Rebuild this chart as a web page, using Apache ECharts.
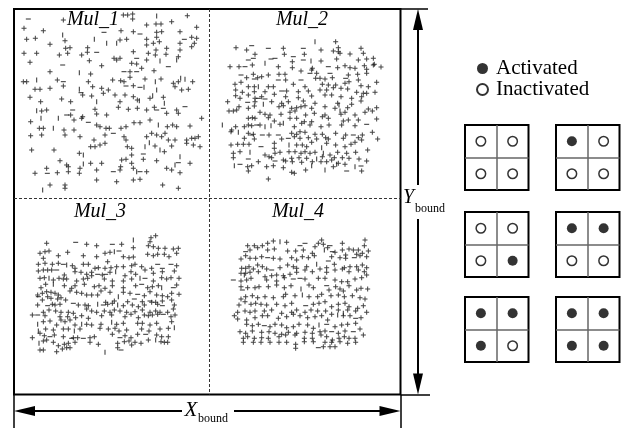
<!DOCTYPE html>
<html>
<head>
<meta charset="utf-8">
<title>Mul regions and activation states</title>
<script src="https://cdn.jsdelivr.net/npm/echarts@6/dist/echarts.min.js"></script>
<style>
  html, body { margin: 0; padding: 0; background: #fff; }
  #chart { width: 622px; height: 430px; }
</style>
</head>
<body>
<div id="chart"></div>
<script>
// marker positions; every panel has its own grid whose units are 1/3 px
var mul1Plus = [[190,60],[370,45],[383,45],[398,42],[398,57],[562,47],
  [72,85],[130,92],[363,92],[400,95],[440,75],[468,72],[483,72],[470,97],[485,95],[515,65],[590,82],
  [80,118],[106,115],[195,122],[360,120],[380,118],[440,118],[470,112],[540,95],[575,112],[590,115],[540,130],[583,130],
  [150,133],[197,145],[210,143],[263,143],[440,135],[460,130],[478,125],[468,150],[500,145],[540,150],[575,140],
  [72,160],[110,160],[178,165],[203,160],[245,165],[262,157],[342,175],[360,175],[400,155],[445,160],[466,165],[498,163],[535,170],
  [90,187],[268,182],[305,197],[350,180],[395,190],[410,192],[440,180],
  [150,215],[272,222],[390,215],[425,205],[462,212],
  [70,245],[80,245],[172,240],[265,245],[338,240],[362,242],[372,245],[390,232],[435,237],[483,237],[520,250],[535,245],[578,245],
  [105,268],[120,268],[150,265],[190,258],[278,260],[305,265],[325,270],[400,257],[525,260],[545,270],[565,268],
  [90,292],[185,297],[212,305],[248,285],[275,288],[310,280],[345,285],[375,285],[400,290],[412,300],[450,295],[490,292],
  [122,305],[360,305],
  [125,333],[140,330],[212,345],[248,350],[285,328],[290,342],[320,345],[355,322],[385,328],[412,325],[440,330],[463,322],[500,340],[530,330],[535,340],
  [92,365],[222,360],[245,355],[290,375],[300,380],[318,385],[328,385],[363,385],[378,380],[402,368],[420,368],[450,360],[502,380],[518,375],[530,380],[570,378],[605,355],[585,415],
  [118,385],[130,385],[192,390],[222,390],
  [92,407],[125,405],[195,405],[240,410],[282,420],[315,405],[372,410],[378,420],[440,410],[455,400],[470,405],[485,410],[495,400],[505,420],[525,420],[560,420],[575,415],[595,410],
  [272,440],[285,440],[300,435],[315,430],[382,440],[395,445],[465,438],[493,455],[515,438],[560,430],[580,435],[600,440],
  [95,450],[162,450],[238,460],[395,465],[430,478],
  [180,482],[200,495],[272,490],[305,490],[365,480],[378,478],[395,490],[470,482],[570,490],
  [105,520],[140,505],[172,518],[205,515],[205,500],[240,505],[238,520],[290,510],[360,510],[362,500],[400,505],[440,515],[500,505],[515,510],[540,518],
  [150,555],[195,555],[195,565],[290,540],[350,545],[400,540],[420,538],[488,555],[535,565]];
var mul1Minus = [[85,57],[312,97],[420,102],[553,118],[290,157],[410,175],[188,195],[505,200],[372,215],[410,215],[190,245],[243,278],[378,258],
  [420,262],[200,345],[218,330],[470,330],[490,325],[555,320],[265,367],[340,400],[430,462],[535,488],[142,520],[340,515],[420,515]];
var mul1Bar = [[470,48],[188,105],[283,118],[320,130],[350,130],[480,183],[530,180],[238,218],[110,240],[466,245],[542,235],[555,238],[238,268],
  [432,262],[470,270],[418,302],[458,287],[493,310],[290,305],[110,332],[123,355],[175,355],[475,375],[160,385],[435,440],[448,428],[480,450],
  [250,465],[540,470],[250,492],[525,495],[410,515],[128,570]];

var mul2Plus = [[362,20],[63,38],[95,45],[205,40],[318,45],[355,48],[370,38],[370,50],[438,40],
  [120,58],[208,58],[268,58],[375,55],[405,57],[445,55],
  [232,80],[318,78],[365,72],[430,75],[455,72],[475,70],[478,88],
  [45,95],[72,95],[112,90],[190,95],[232,98],[292,100],[290,105],[368,98],[390,92],[405,98],[420,100],[448,92],[475,90],[498,96],[455,103],
  [258,108],[455,115],[115,118],[140,125],[160,120],[192,118],[210,118],[305,115],[352,128],[400,120],[428,118],
  [95,128],[128,128],[212,135],[302,130],[315,130],[330,132],[430,135],[485,142],
  [60,148],[78,142],[100,155],[118,155],[160,155],[175,155],[235,148],[270,155],[322,148],[340,150],[362,150],[390,145],[402,140],[438,152],[460,155],
  [62,165],[82,172],[118,170],[150,170],[215,168],[250,170],[280,168],[315,165],[335,165],[355,158],[378,160],[398,162],[425,172],[445,175],[480,172],
  [62,182],[75,190],[100,180],[120,190],[140,185],[178,178],[212,185],[250,188],[290,183],[330,180],[350,180],[378,185],[410,190],[440,185],[455,175],
  [38,200],[120,200],[170,200],[200,205],[220,200],[265,198],[300,205],[330,215],[368,205],[410,208],[438,198],
  [72,215],[100,220],[118,213],[192,215],[205,212],[230,220],[245,218],[258,215],[270,212],[290,220],[360,220],[398,218],[460,222],[485,218],
  [42,228],[55,228],[65,225],[135,232],[150,238],[165,240],[198,238],[225,232],[240,228],[272,240],[298,235],[322,245],[330,240],[378,238],[390,232],[420,240],[450,232],[472,228],
  [100,250],[112,248],[120,250],[160,248],[178,258],[225,250],[245,250],[268,260],[290,260],[340,250],[385,258],[400,255],[430,255],[485,252],
  [50,285],[62,275],[88,275],[100,270],[110,272],[135,270],[195,268],[238,275],[260,265],[285,270],[318,275],[342,270],[380,270],[420,272],
  [48,290],[100,295],[115,298],[162,300],[230,295],[245,298],[255,290],[270,292],[300,298],[322,298],[332,308],[362,295],[392,300],[442,300],[472,292],
  [88,310],[118,312],[200,312],[238,305],[255,310],[280,308],[305,312],[340,312],[385,310],[430,308],[488,312],
  [48,330],[68,328],[85,328],[102,328],[178,325],[245,330],[262,330],[275,335],[290,322],[335,325],[362,330],[390,335],[408,328],[420,322],[440,315],
  [55,355],[75,350],[150,360],[178,340],[180,355],[195,352],[222,350],[240,350],[258,355],[270,350],[285,355],[300,352],[345,360],[368,352],[395,355],[422,352],[458,345],
  [55,368],[162,365],[170,368],[205,375],[230,370],[252,368],[275,370],[322,365],[358,368],[382,368],[402,370],[432,372],
  [130,380],[212,378],[232,380],[260,382],[292,380],[318,380],[335,380],[350,375],[370,385],[390,388],[455,378],
  [98,395],[110,392],[155,395],[175,392],[205,398],[272,405],[355,395],[440,408],
  [100,408],[230,412],[238,415],[160,432]];
var mul2Minus = [[110,32],[160,40],[265,40],[235,65],[100,75],[115,70],[168,72],[180,70],[265,75],[90,95],[340,95],[78,120],[285,115],[345,115],
  [118,132],[190,135],[258,135],[392,130],[200,168],[98,202],[130,190],[150,192],[125,270],[455,268],[110,300],[142,300],[190,300],[415,300],
  [220,310],[138,335],[100,372],[180,378],[75,388],[395,408],[438,393]];
var mul2Bar = [[300,20],[150,85],[288,78],[130,155],[145,208],[372,210],[375,228],[22,270],[150,275],[168,272],[205,265],[70,292],[222,330],
  [320,338],[105,352],[325,355],[305,372],[58,392],[290,392],[330,405],[365,388],[420,395]];

var mul3Plus = [[65,55],[185,58],[215,62],[290,58],[325,68],[378,38],[392,32],[375,50],[370,62],[385,65],[400,70],[420,70],[445,72],[460,70],
  [45,85],[60,80],[72,78],[100,92],[128,82],[175,92],[215,95],[240,85],[255,82],[295,95],[312,98],[325,96],[368,88],[385,92],[398,88],[418,88],[432,95],[455,85],
  [40,118],[55,100],[60,115],[82,118],[100,115],[142,122],[150,130],[175,118],[190,118],[210,130],[220,128],[240,130],[248,110],[258,128],[275,125],[295,125],[320,122],[330,118],[350,125],[380,130],[455,122],
  [40,138],[55,135],[68,135],[80,135],[118,150],[150,140],[168,142],[185,148],[200,152],[200,142],[232,150],[255,142],[300,152],[318,140],[332,148],[360,135],[385,145],[412,140],[448,138],
  [45,160],[58,158],[85,165],[102,160],[115,162],[125,162],[155,168],[175,162],[188,160],[238,162],[262,168],[295,168],[320,162],[385,168],[410,158],[425,162],[438,158],[462,160],
  [48,188],[62,178],[118,182],[140,190],[150,182],[178,178],[208,185],[222,182],[240,190],[262,182],[295,188],[332,182],[368,188],[382,185],[400,182],[455,180],
  [38,210],[52,205],[65,200],[78,202],[90,205],[100,210],[135,198],[155,202],[170,205],[185,210],[200,210],[218,210],[228,198],[255,202],[295,202],[315,205],[358,212],[375,200],[395,210],[412,212],[428,215],[440,205],[462,208],
  [52,225],[68,215],[78,220],[98,222],[108,218],[122,225],[242,232],[268,228],[308,230],[352,230],[392,232],[412,228],[440,225],
  [38,240],[82,238],[90,240],[105,238],[160,240],[180,240],[190,242],[248,238],[262,235],[295,242],[322,240],[340,245],[358,240],[380,232],[398,238],[448,240],
  [55,262],[72,255],[92,258],[108,262],[130,262],[145,265],[185,252],[200,258],[215,262],[238,258],[255,262],[268,255],[285,258],[305,262],[330,260],[352,255],[375,262],[392,258],[405,262],[428,262],[445,252],
  [22,270],[60,272],[105,275],[128,275],[152,278],[170,272],[190,280],[230,272],[260,270],[300,275],[318,268],[340,278],[358,270],[370,272],[382,270],[398,268],[438,275],[450,270],
  [55,290],[75,288],[95,300],[108,285],[120,290],[135,285],[150,300],[185,298],[200,300],[228,298],[275,298],[295,295],[338,295],[352,295],[375,300],[395,295],[440,290],
  [62,312],[85,315],[115,312],[130,312],[165,312],[225,310],[250,312],[270,310],[282,318],[305,315],[350,312],[372,318],[405,312],[430,310],
  [22,338],[45,325],[58,332],[88,330],[115,335],[145,338],[158,338],[195,338],[208,335],[262,328],[300,332],[318,338],[338,328],[395,330],[410,335],[430,335],
  [55,348],[65,345],[85,352],[100,362],[118,358],[130,355],[150,352],[195,352],[220,358],[278,355],[298,350],[312,348],[330,352],[348,355],[370,345],[408,350],[418,352],[428,352],
  [45,375],[55,375],[95,380],[112,372],[125,368],[135,368],[278,368],[320,360]];
var mul3Minus = [[152,52],[262,58],[282,78],[115,118],[398,118],[412,130],[438,118],[95,135],[218,148],[242,148],[360,160],[350,178],[445,188],
  [40,215],[338,208],[328,222],[375,228],[68,242],[145,235],[235,240],[412,242],[38,270],[415,268],[75,335],[140,340],[175,340],[285,338],
  [362,328],[288,375]];
var mul3Bar = [[325,45],[268,80],[125,120],[272,140],[72,160],[345,160],[85,178],[410,188],[280,215],[218,238],[278,240],[38,298],[170,298],
  [260,292],[40,318],[148,318],[448,308],[42,355],[392,345],[240,382]];

var mul4Plus = [[290,45],[420,45],[68,62],[88,62],[98,68],[112,62],[128,55],[145,48],[185,52],[270,65],[280,55],[295,58],[352,55],[372,72],[385,75],[400,75],[418,62],[430,78],
  [75,75],[128,75],[148,72],[188,78],[212,78],[235,75],[262,85],[308,68],[330,82],[352,75],[362,90],[395,88],[412,85],
  [48,102],[62,92],[75,100],[92,100],[110,95],[145,100],[165,102],[200,98],[215,105],[232,95],[250,98],[268,92],[320,95],[345,98],[362,100],[405,92],[425,95],
  [50,130],[62,130],[72,125],[85,132],[98,120],[112,125],[125,132],[165,128],[188,120],[205,125],[215,130],[245,125],[305,128],[328,118],[358,128],[375,125],[395,125],[412,120],[425,128],
  [48,145],[62,145],[75,142],[100,140],[120,155],[140,152],[155,150],[175,152],[195,148],[215,142],[240,135],[262,140],[285,132],[305,142],[330,135],[352,132],[372,140],[400,135],[418,140],
  [48,168],[65,165],[78,160],[125,165],[155,168],[178,158],[240,162],[280,160],[300,160],[330,165],[350,170],[368,170],[390,162],[410,158],[425,150],
  [48,185],[68,188],[90,188],[102,185],[130,185],[155,180],[178,188],[198,182],[252,180],[265,188],[312,195],[332,185],[345,192],[355,198],[372,182],[395,195],[408,190],[428,192],
  [48,222],[62,215],[82,212],[98,218],[120,215],[145,218],[175,215],[182,208],[210,212],[252,215],[278,215],[290,208],[318,212],[340,210],[358,215],[382,212],[405,218],[420,222],
  [42,240],[60,230],[78,238],[92,235],[108,238],[125,240],[155,238],[180,242],[200,235],[265,238],[282,235],[300,230],[320,245],[340,238],[360,235],[372,245],[398,250],[415,242],
  [38,262],[60,258],[75,262],[90,258],[118,258],[140,255],[170,265],[200,262],[215,255],[240,262],[258,255],[278,258],[302,258],[320,268],[340,255],[368,255],[392,258],[425,262],
  [28,272],[38,282],[65,285],[90,278],[112,272],[128,272],[160,280],[185,275],[205,268],[225,272],[248,278],[270,275],[290,272],[308,285],[355,272],[375,272],[408,278],
  [65,298],[82,302],[100,298],[135,305],[150,298],[170,300],[185,308],[205,305],[222,298],[248,300],[265,310],[330,305],[350,300],[368,298],[392,295],
  [45,320],[62,325],[82,318],[110,322],[132,320],[150,325],[170,328],[190,322],[215,325],[240,322],[262,325],[285,320],[300,318],[340,325],[360,318],[405,312],
  [55,340],[68,335],[88,340],[110,338],[130,340],[162,335],[182,330],[210,330],[238,340],[262,340],[288,330],[305,335],[322,345],[342,340],[358,335],[372,340],[390,340],[415,330],
  [55,352],[85,352],[108,352],[135,352],[162,352],[185,352],[212,358],[238,350],[265,350],[300,352],[320,352],[345,350],[368,355],[392,352],
  [212,370],[295,365],[315,365],[330,365]];
var mul4Minus = [[225,62],[240,55],[315,62],[62,80],[322,80],[128,98],[310,108],[388,98],[140,135],[25,165],[205,162],[225,160],[52,195],
  [305,182],[242,242],[392,280],[118,302],[305,298],[320,320],[385,320],[280,368]];
var mul4Bar = [[165,50],[298,75],[275,118],[58,150],[228,192],[232,210],[355,265],[338,270],[282,300]];

// activation state of the four cells (top-left, top-right, bottom-left, bottom-right) for each 2x2 block
var cellStates = [[0,0,0,0],[1,0,0,0],[0,0,0,1],[1,1,0,0],[1,1,1,0],[1,1,1,1]];
var cellX = [0.5, 1.5, 0.5, 1.5];
var cellY = [1.5, 1.5, 0.5, 0.5];

var serif = '"Liberation Serif", "Times New Roman", serif';
var plusPath = 'path://M2,0H3V5H2ZM0,2H5V3H0Z';
var arrowPath = 'path://M5,0L10,21L0,21Z';

var myChart = echarts.init(document.getElementById('chart'));

var grids = [
  { left: 14, top: 9, width: 386.5, height: 385.5, show: true, borderColor: '#000', borderWidth: 2 },
  { left: 0, top: 0, width: 210, height: 200 },
  { left: 215, top: 35, width: 175, height: 150 },
  { left: 25, top: 225, width: 160, height: 135 },
  { left: 225, top: 225, width: 155, height: 140 }
];
var panelSize = [[386.5, 385.5], [630, 600], [525, 450], [480, 405], [465, 420]];
var blockPos = [[465, 125], [556, 125], [465, 212], [556, 212], [465, 297], [556, 297]];

var xAxes = [], yAxes = [];
panelSize.forEach(function (s, i) {
  xAxes.push({ gridIndex: i, type: 'value', min: 0, max: s[0], show: false });
  yAxes.push({ gridIndex: i, type: 'value', min: 0, max: s[1], inverse: true, show: false });
});

var cellLine = { show: true, showMinLine: false, showMaxLine: false, lineStyle: { color: '#666', width: 1.5 } };
blockPos.forEach(function (p, k) {
  var gi = grids.length;
  grids.push({ left: p[0], top: p[1], width: 63.5, height: 65, show: true, borderColor: '#000', borderWidth: 2 });
  xAxes.push({ gridIndex: gi, type: 'value', min: 0, max: 2, interval: 1, axisLine: { show: false },
    axisTick: { show: false }, axisLabel: { show: false }, splitLine: cellLine });
  yAxes.push({ gridIndex: gi, type: 'value', min: 0, max: 2, interval: 1, axisLine: { show: false },
    axisTick: { show: false }, axisLabel: { show: false }, splitLine: cellLine });
});
grids.forEach(function (g) { g.outerBoundsMode = 'none'; g.backgroundColor = 'transparent'; });

var series = [];

function panelSeries(i, plus, minus, bar) {
  var base = { type: 'scatter', xAxisIndex: i, yAxisIndex: i, silent: true, itemStyle: { color: '#111' } };
  series.push(Object.assign({ name: 'plus' + i, symbol: plusPath, symbolSize: 5, data: plus }, base));
  series.push(Object.assign({ name: 'minus' + i, symbol: 'rect', symbolSize: [5, 1.1], data: minus }, base));
  series.push(Object.assign({ name: 'bar' + i, symbol: 'rect', symbolSize: [1.1, 5], data: bar }, base));
}
panelSeries(1, mul1Plus, mul1Minus, mul1Bar);
panelSeries(2, mul2Plus, mul2Minus, mul2Bar);
panelSeries(3, mul3Plus, mul3Minus, mul3Bar);
panelSeries(4, mul4Plus, mul4Minus, mul4Bar);

// frame: dashed quadrant dividers, bound arrows and their end ticks
series.push({
  type: 'scatter', xAxisIndex: 0, yAxisIndex: 0, data: [], silent: true,
  markLine: { silent: true, symbol: 'none', label: { show: false },
    lineStyle: { color: '#333', type: [3, 2], width: 1 },
    data: [{ xAxis: 195 }, { yAxis: 189 }] }
});
series.push({
  type: 'scatter', xAxisIndex: 0, yAxisIndex: 0, data: [], silent: true,
  markLine: { silent: true, symbol: [arrowPath, arrowPath], symbolSize: [10, 21], label: { show: false },
    lineStyle: { color: '#000', type: 'solid', width: 2 },
    data: [[{ x: 24.5, y: 411 }, { x: 390, y: 411 }], [{ x: 418, y: 19.5 }, { x: 418, y: 384 }]] }
});
series.push({
  type: 'scatter', xAxisIndex: 0, yAxisIndex: 0, data: [], silent: true,
  markLine: { silent: true, symbol: 'none', label: { show: false },
    lineStyle: { color: '#000', type: 'solid', width: 1.5 },
    data: [[{ x: 14, y: 395 }, { x: 14, y: 428 }], [{ x: 400.5, y: 395 }, { x: 400.5, y: 428 }],
           [{ x: 401, y: 9 }, { x: 428, y: 9 }], [{ x: 401, y: 394.5 }, { x: 430, y: 394.5 }]] }
});

// activation blocks
cellStates.forEach(function (st, k) {
  var gi = 5 + k, on = [], off = [];
  st.forEach(function (v, c) { (v ? on : off).push([cellX[c], cellY[c]]); });
  series.push({ name: 'Activated', type: 'scatter', xAxisIndex: gi, yAxisIndex: gi, symbol: 'circle', symbolSize: 10,
    silent: true, itemStyle: { color: '#000' }, data: on });
  series.push({ name: 'Inactivated', type: 'scatter', xAxisIndex: gi, yAxisIndex: gi, symbol: 'circle', symbolSize: 9.5,
    silent: true, itemStyle: { color: '#fff', borderColor: '#000', borderWidth: 1.5 }, data: off });
});

function label(text, x, y, font, align) {
  return { type: 'text', x: x, y: y, z: 100, silent: true,
    style: { text: text, font: font, fill: '#000', textAlign: align || 'center', textVerticalAlign: 'middle' } };
}

myChart.setOption({
  animation: false,
  backgroundColor: '#fff',
  legend: {
    data: ['Activated', 'Inactivated'], orient: 'vertical', left: 471, top: 53,
    icon: 'circle', itemWidth: 17, itemHeight: 11, itemGap: 0, selectedMode: false,
    textStyle: { fontFamily: serif, fontSize: 21, color: '#000', lineHeight: 20 }
  },
  grid: grids,
  xAxis: xAxes,
  yAxis: yAxes,
  series: series,
  graphic: [
    label('Mul_1', 93, 20, 'italic 20px ' + serif),
    label('Mul_2', 302, 20, 'italic 20px ' + serif),
    label('Mul_3', 100, 212, 'italic 20px ' + serif),
    label('Mul_4', 298, 212, 'italic 20px ' + serif),
    { type: 'rect', z: 99, silent: true, shape: { x: 182, y: 402, width: 52, height: 20 }, style: { fill: '#fff' } },
    label('X', 191, 410, 'italic 21px ' + serif),
    label('bound', 198, 419, '12px ' + serif, 'left'),
    { type: 'rect', z: 99, silent: true, shape: { x: 403, y: 185, width: 44, height: 34 }, style: { fill: '#fff' } },
    label('Y', 408.5, 198, 'italic 20px ' + serif),
    label('bound', 415, 209, '12px ' + serif, 'left')
  ]
});
</script>
</body>
</html>
